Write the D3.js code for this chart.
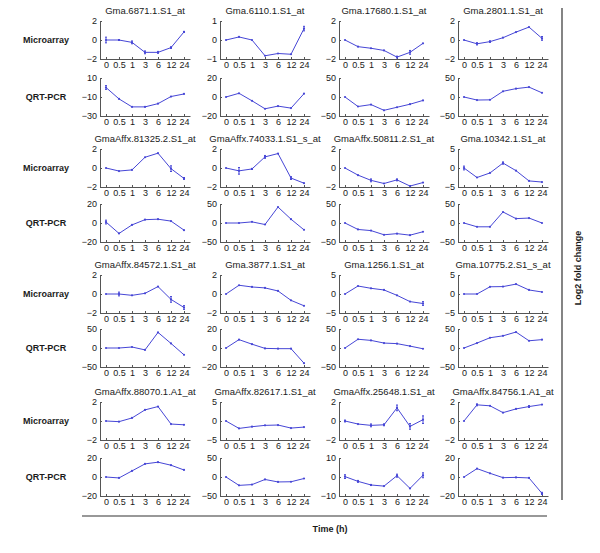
<!DOCTYPE html>
<html>
<head>
<meta charset="utf-8">
<script src="https://cdn.jsdelivr.net/npm/d3@7"></script>
<style>
  body { margin: 0; background: #fff; }
  text { font-family: Arial, "Liberation Sans", Helvetica, sans-serif; fill: #1a1a1a; }
</style>
</head>
<body>
<div id="chart"></div>
<script>
// time points (h)
const times = ['0', '0.5', '1', '3', '6', '12', '24'];

const probes = [
  'Gma.6871.1.S1_at', 'Gma.6110.1.S1_at', 'Gma.17680.1.S1_at', 'Gma.2801.1.S1_at',
  'GmaAffx.81325.2.S1_at', 'GmaAffx.74033.1.S1_s_at', 'GmaAffx.50811.2.S1_at', 'Gma.10342.1.S1_at',
  'GmaAffx.84572.1.S1_at', 'Gma.3877.1.S1_at', 'Gma.1256.1.S1_at', 'Gma.10775.2.S1_s_at',
  'GmaAffx.88070.1.A1_at', 'GmaAffx.82617.1.S1_at', 'GmaAffx.25648.1.S1_at', 'GmaAffx.84756.1.A1_at'
];

const rowLabels = ['Microarray', 'QRT-PCR'];

// log2 fold change, microarray
const microarray = [
  [0, 0, -0.25, -1.3, -1.3, -0.8, 0.85],
  [0, 0.16, 0, -0.83, -0.71, -0.75, 0.6],
  [0, -0.7, -0.87, -1.1, -1.8, -1.3, -0.35],
  [0, -0.4, -0.17, 0.24, 0.83, 1.36, 0.17],
  [0, -0.32, -0.2, 1.13, 1.56, -0.07, -1.1],
  [0, -0.3, -0.1, 1.17, 1.52, -1.06, -1.6],
  [0, -0.75, -1.3, -1.63, -1.25, -1.9, -1.53],
  [0, -2.5, -1.3, 1.3, -0.7, -3.4, -3.7],
  [0, 0, -0.14, 0.07, 0.78, -0.57, -1.42],
  [0, 0.92, 0.74, 0.64, 0.32, -0.67, -1.24],
  [0, 2.1, 1.5, 1.06, -0.35, -2.0, -2.5],
  [0, 0, 1.9, 1.95, 2.6, 1.06, 0.53],
  [0, -0.07, 0.32, 1.17, 1.52, -0.32, -0.4],
  [0, -1.95, -1.5, -1.15, -1.06, -1.86, -1.6],
  [0, -0.32, -0.46, -0.4, 1.38, -0.57, 0.14],
  [0, 1.7, 1.6, 0.88, 1.27, 1.52, 1.73]
];

const microarrayErr = [
  [0.3, 0.05, 0.15, 0.15, 0.1, 0.08, 0.05],
  [0, 0, 0, 0, 0, 0, 0.12],
  [0, 0, 0, 0, 0.1, 0.2, 0],
  [0, 0.12, 0.08, 0, 0, 0, 0.2],
  [0, 0, 0, 0, 0, 0.3, 0.1],
  [0, 0.35, 0.05, 0.15, 0, 0.15, 0],
  [0, 0, 0.15, 0, 0.1, 0, 0],
  [0.5, 0, 0, 0.3, 0, 0, 0],
  [0, 0.2, 0, 0, 0, 0.3, 0.2],
  [0, 0, 0, 0, 0, 0, 0],
  [0, 0, 0, 0, 0, 0, 0.5],
  [0, 0, 0, 0, 0, 0, 0],
  [0, 0, 0, 0, 0, 0, 0],
  [0, 0, 0, 0, 0, 0, 0],
  [0.1, 0, 0.15, 0.1, 0.3, 0.3, 0.4],
  [0, 0.1, 0, 0, 0, 0.1, 0]
];

// QRT-PCR fold change
const qrtpcr = [
  [0, -12, -20.4, -20.4, -17, -9.5, -6.8],
  [0, 3.9, -4, -12.4, -9.6, -11.7, 3.5],
  [0, -25, -20, -35, -27, -19, -9],
  [0, -8, -7.5, 15, 22, 26, 11],
  [1, -11, -2, 3.5, 4, 2, -7.5],
  [0, 0, 3, -4, 42, 10, -18],
  [0, -17, -20, -31, -28, -32, -23],
  [0, -10, -10, 29, 11.5, 13, 0],
  [0, 0, 2.6, -5, 41, 12, -18],
  [0, 8.8, 4, -0.4, -0.7, -0.7, -16],
  [0, 23, 20, 13, 11.5, 5, -2],
  [0, 13, 27, 32, 42, 19, 22],
  [0, -1, 6.4, 13.8, 15.6, 12.4, 7.4],
  [0, -22, -20, -6.5, -13, -12.5, -4],
  [0.2, -2.3, -4.2, -4.8, 0.7, -6, 0.9],
  [0, 8.8, 3.9, -0.7, -0.4, -1, -17.3]
];

const qrtpcrErr = [
  [2, 0, 0, 0, 0, 0, 0],
  [0, 0, 0, 0, 0, 0, 0],
  [0, 0, 0, 0, 0, 0, 0],
  [0, 0, 0, 0, 0, 0, 0],
  [2, 0, 0, 0, 0, 0, 0],
  [0, 0, 0, 0, 0, 0, 0],
  [0, 0, 0, 0, 0, 0, 0],
  [0, 0, 0, 0, 0, 0, 0],
  [0, 0, 0, 0, 0, 0, 0],
  [0, 0, 0, 0, 0, 0, 0],
  [0, 0, 0, 0, 0, 0, 0],
  [0, 0, 0, 0, 0, 0, 0],
  [0, 0, 0, 0, 0, 0, 0],
  [0, 0, 0, 0, 0, 0, 0],
  [1, 0.5, 0.3, 0, 0.8, 0, 1.3],
  [0, 0, 0, 0, 0, 0, 1.2]
];

// y limits of each panel
const microarrayRange = [
  [-2, 2], [-1, 1], [-2, 2], [-2, 2],
  [-2, 2], [-2, 2], [-2, 2], [-5, 5],
  [-2, 2], [-2, 2], [-5, 5], [-5, 5],
  [-2, 2], [-5, 5], [-2, 2], [-2, 2]
];
const qrtpcrRange = [
  [-30, 10], [-20, 20], [-50, 50], [-50, 50],
  [-20, 20], [-50, 50], [-50, 50], [-50, 50],
  [-50, 50], [-20, 20], [-50, 50], [-50, 50],
  [-20, 20], [-50, 50], [-10, 10], [-20, 20]
];

// layout
const W = 600, H = 553;
const colX = [100, 220, 339, 458];
const microTop = [21, 149, 275, 402];
const qrtTop = [78, 204, 329, 458];
const pw = 90, ph = 38;
const lineColor = '#4646d6';

const svg = d3.select('#chart')
  .append('svg')
  .attr('width', W)
  .attr('height', H);

const x = d3.scalePoint().domain(times).range([0, pw]).padding(0.4615);

function drawPanel(px, py, values, errs, range) {
  const g = svg.append('g').attr('transform', `translate(${px}, ${py})`);
  const y = d3.scaleLinear().domain(range).range([ph, 0]);
  const ticks = [range[0], (range[0] + range[1]) / 2, range[1]];

  const yAxis = g.append('g')
    .call(d3.axisLeft(y).tickValues(ticks).tickFormat(d3.format('~g'))
      .tickSizeInner(-2).tickSizeOuter(0).tickPadding(3));
  const xAxis = g.append('g')
    .attr('transform', `translate(0, ${ph})`)
    .call(d3.axisBottom(x).tickSizeInner(-2).tickSizeOuter(0).tickPadding(3));

  [xAxis, yAxis].forEach(a => {
    a.select('.domain').attr('stroke', '#555');
    a.selectAll('.tick line').attr('stroke', '#555');
    a.selectAll('text').style('font-size', '9px').attr('fill', '#1a1a1a');
  });

  const pts = times.map((t, i) => ({ t: t, v: values[i], e: errs[i] }));

  g.append('path')
    .datum(pts)
    .attr('fill', 'none')
    .attr('stroke', lineColor)
    .attr('stroke-width', 1)
    .attr('d', d3.line().x(d => x(d.t)).y(d => y(d.v)));

  // error bars
  const eb = g.selectAll('.err').data(pts.filter(d => d.e > 0)).enter().append('g');
  eb.append('line')
    .attr('x1', d => x(d.t)).attr('x2', d => x(d.t))
    .attr('y1', d => y(d.v - d.e)).attr('y2', d => y(d.v + d.e))
    .attr('stroke', lineColor).attr('stroke-width', 1);
  [-1, 1].forEach(s => {
    eb.append('line')
      .attr('x1', d => x(d.t) - 1).attr('x2', d => x(d.t) + 1)
      .attr('y1', d => y(d.v + s * d.e)).attr('y2', d => y(d.v + s * d.e))
      .attr('stroke', lineColor).attr('stroke-width', 1);
  });

  // point markers
  g.selectAll('.pt').data(pts).enter().append('circle')
    .attr('cx', d => x(d.t))
    .attr('cy', d => y(d.v))
    .attr('r', 1.1)
    .attr('fill', lineColor);
}

probes.forEach((name, i) => {
  const r = Math.floor(i / 4), c = i % 4;
  svg.append('text')
    .attr('x', colX[c] + pw / 2)
    .attr('y', microTop[r] - 7)
    .attr('text-anchor', 'middle')
    .style('font-size', '9.5px')
    .text(name);
  drawPanel(colX[c], microTop[r], microarray[i], microarrayErr[i], microarrayRange[i]);
  drawPanel(colX[c], qrtTop[r], qrtpcr[i], qrtpcrErr[i], qrtpcrRange[i]);
});

// row labels
microTop.forEach((t, r) => {
  [t, qrtTop[r]].forEach((top, k) => {
    svg.append('text')
      .attr('x', 46)
      .attr('y', top + ph / 2 + 3)
      .attr('text-anchor', 'middle')
      .style('font-size', '9px')
      .style('font-weight', 'bold')
      .text(rowLabels[k]);
  });
});

// frame lines and outer labels
svg.append('line')
  .attr('x1', 82).attr('x2', 547).attr('y1', 516).attr('y2', 516)
  .attr('stroke', '#333').attr('stroke-width', 1.2);
svg.append('line')
  .attr('x1', 562).attr('x2', 562).attr('y1', 8).attr('y2', 500)
  .attr('stroke', '#333').attr('stroke-width', 1.2);

svg.append('text')
  .attr('x', 330).attr('y', 532)
  .attr('text-anchor', 'middle')
  .style('font-size', '9px')
  .style('font-weight', 'bold')
  .text('Time (h)');

svg.append('text')
  .attr('transform', 'translate(581, 268) rotate(-90)')
  .attr('text-anchor', 'middle')
  .style('font-size', '9px')
  .style('font-weight', 'bold')
  .text('Log2 fold change');
</script>
</body>
</html>
